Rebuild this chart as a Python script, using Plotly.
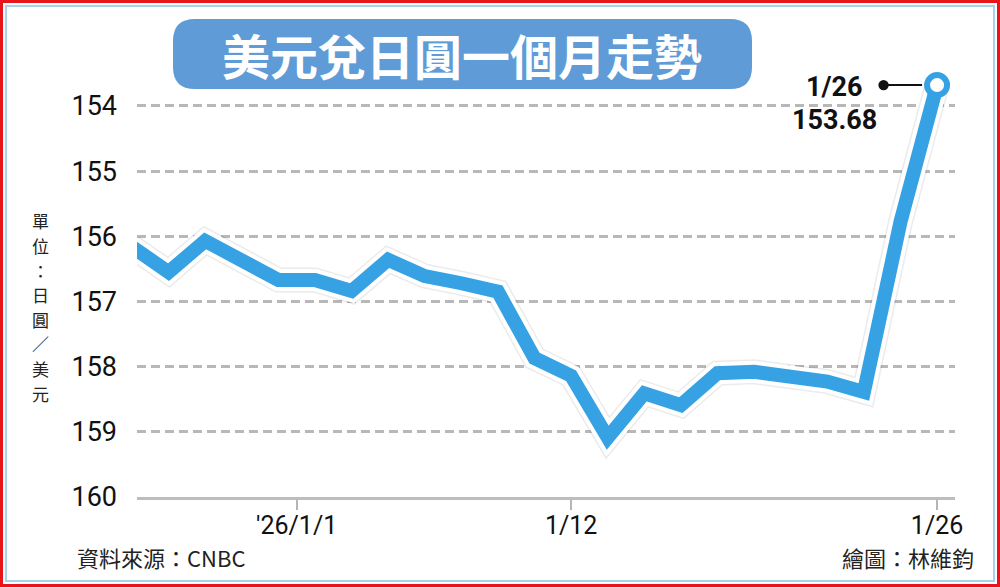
import plotly.graph_objects as go

# ---------------- data ----------------
dates = ["12/24", "12/25", "12/26", "12/29", "12/30", "12/31", "1/2", "1/5", "1/6", "1/7",
         "1/8", "1/9", "1/12", "1/13", "1/14", "1/15", "1/16", "1/19", "1/20", "1/21",
         "1/22", "1/23", "1/26"]
rates = [156.16, 156.55, 156.07, 156.35, 156.67, 156.67, 156.84, 156.36, 156.61, 156.72,
         156.85, 157.87, 158.14, 159.09, 158.41, 158.59, 158.10, 158.08, 158.14, 158.23,
         158.39, 155.78, 153.68]
y_ticks = [154, 155, 156, 157, 158, 159, 160]
x_tick_labels = ["'26/1/1", "1/12", "1/26"]
x_tick_index = [4.5, 12, 22]          # position on the trading-day axis
title_text = "美元兌日圓一個月走勢"
y_unit = "單位：日圓／美元"
source_text = "資料來源：CNBC"
credit_text = "繪圖：林維鈞"

x = list(range(len(dates)))

# ---------------- layout helpers ----------------
W, H = 1000, 587
L, R, T, B = 137, 45, 60, 90
PW, PH = W - L - R, H - T - B


def px_x(p):
    return (p - L) / PW


def px_y(p):
    return (H - B - p) / PH


def rounded_rect(x0, y0, x1, y1, r):
    pts = [
        f"M {px_x(x0 + r)},{px_y(y0)}",
        f"L {px_x(x1 - r)},{px_y(y0)}",
        f"Q {px_x(x1)},{px_y(y0)} {px_x(x1)},{px_y(y0 + r)}",
        f"L {px_x(x1)},{px_y(y1 - r)}",
        f"Q {px_x(x1)},{px_y(y1)} {px_x(x1 - r)},{px_y(y1)}",
        f"L {px_x(x0 + r)},{px_y(y1)}",
        f"Q {px_x(x0)},{px_y(y1)} {px_x(x0)},{px_y(y1 - r)}",
        f"L {px_x(x0)},{px_y(y0 + r)}",
        f"Q {px_x(x0)},{px_y(y0)} {px_x(x0 + r)},{px_y(y0)}",
        "Z",
    ]
    return " ".join(pts)


BLUE = "#36a2e3"
NUM_FONT = "Roboto"
CJK_FONT = "Noto Sans CJK TC"

fig = go.Figure()

# shadow, white halo and the blue line
fig.add_trace(go.Scatter(x=x, y=rates, mode="lines",
                         line=dict(color="rgba(0,0,0,0.08)", width=25),
                         hoverinfo="skip", showlegend=False, cliponaxis=False))
fig.add_trace(go.Scatter(x=x, y=rates, mode="lines",
                         line=dict(color="white", width=22),
                         hoverinfo="skip", showlegend=False, cliponaxis=False))
fig.add_trace(go.Scatter(x=x, y=rates, mode="lines",
                         line=dict(color=BLUE, width=14),
                         hoverinfo="skip", showlegend=False, cliponaxis=False))
# end-point marker
fig.add_trace(go.Scatter(x=[x[-1]], y=[rates[-1]], mode="markers",
                         marker=dict(size=20, color="white", line=dict(color=BLUE, width=6)),
                         hoverinfo="skip", showlegend=False, cliponaxis=False))

shapes = [
    # outer red frame and inner light-blue frame
    dict(type="rect", xref="paper", yref="paper",
         x0=px_x(1.5), x1=px_x(W - 1.5), y0=px_y(1.5), y1=px_y(H - 1.5),
         line=dict(color="#e8141b", width=3), fillcolor="rgba(0,0,0,0)", layer="below"),
    dict(type="rect", xref="paper", yref="paper",
         x0=px_x(6), x1=px_x(W - 6), y0=px_y(6), y1=px_y(H - 6),
         line=dict(color="#a9d0ea", width=2), fillcolor="rgba(0,0,0,0)", layer="below"),
    # title pill
    dict(type="path", xref="paper", yref="paper",
         path=rounded_rect(173, 19, 752, 89, 22),
         fillcolor="#5f9bd6", line=dict(width=0), layer="below"),
]


def note(px, py, text, font, xanchor="center", pad=1):
    return dict(x=px_x(px), y=px_y(py), xref="paper", yref="paper", showarrow=False,
                xanchor=xanchor, yanchor="middle", text=text, font=font, borderpad=pad)


annotations = [
    note(462, 54, f"<b>{title_text}</b>", dict(family=CJK_FONT, size=48, color="white")),
    note(75, 557, source_text, dict(family=CJK_FONT, size=22, color="#222222"), "left"),
    note(976, 557, credit_text, dict(family=CJK_FONT, size=22, color="#222222"), "right"),
    # end label
    dict(x=x[-1], y=rates[-1], xref="x", yref="y", showarrow=False,
         xanchor="right", yanchor="middle", xshift=-72, yshift=-2,
         text=f"<b>{dates[-1]}</b>",
         font=dict(family=NUM_FONT, size=27, color="#111111")),
    dict(x=x[-1], y=rates[-1], xref="x", yref="y", showarrow=False,
         xanchor="right", yanchor="middle", xshift=-58, yshift=-35,
         text=f"<b>{rates[-1]:.2f}</b>",
         font=dict(family=NUM_FONT, size=27, color="#111111")),
    # connector dot + line
    dict(x=x[-1], y=rates[-1], xref="x", yref="y", showarrow=True,
         ax=-55, ay=0, text="", arrowside="start", startarrowhead=6,
         startarrowsize=1.3, arrowwidth=2, arrowcolor="#111111", standoff=15),
]

# vertical (stacked) unit label, one character per line
unit_chars = list(y_unit)
step = 24.6
top = 307 - step * (len(unit_chars) - 1) / 2
for i, ch in enumerate(unit_chars):
    annotations.append(note(40, top + i * step, ch,
                            dict(family=CJK_FONT, size=17, color="#222222"), pad=0))

fig.update_layout(
    width=W, height=H,
    margin=dict(l=L, r=R, t=T, b=B),
    paper_bgcolor="white", plot_bgcolor="white",
    shapes=shapes, annotations=annotations,
    xaxis=dict(range=[0.137, 22.49], showgrid=False, zeroline=False,
               tickmode="array", tickvals=x_tick_index, ticktext=x_tick_labels,
               ticks="outside", ticklen=10, tickwidth=2, tickcolor="#b5b5b5",
               ticklabelstandoff=-6,
               showline=True, linecolor="#bdbdbd", linewidth=3,
               tickfont=dict(family=NUM_FONT, size=25, color="#111111")),
    yaxis=dict(range=[160, 153.295], showgrid=True, gridcolor="#b8b8b8",
               gridwidth=2.5, griddash="9px,5px", zeroline=False,
               tickmode="array", tickvals=y_ticks, ticks="",
               ticklabelstandoff=19,
               tickfont=dict(family=NUM_FONT, size=27, color="#111111")),
)

fig.write_html("out.html", config={"displayModeBar": False},
               post_script="document.body.style.margin='0';")
